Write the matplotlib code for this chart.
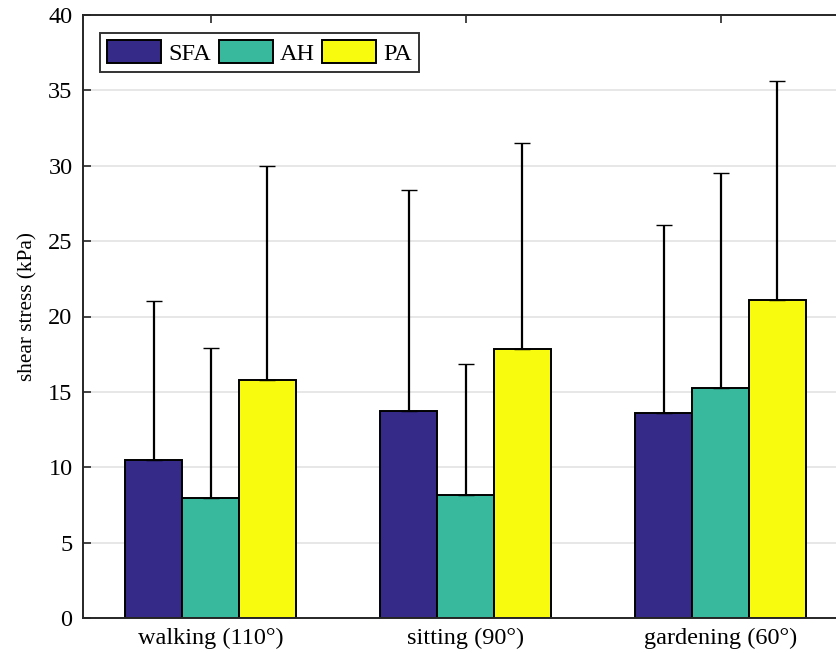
import numpy as np
import matplotlib
matplotlib.use("Agg")
import matplotlib.pyplot as plt

# Data
activities = ["walking (110°)", "sitting (90°)", "gardening (60°)"]
groups = ["SFA", "AH", "PA"]
sfa_mean = [10.5, 13.7, 13.6]
ah_mean = [7.95, 8.15, 15.25]
pa_mean = [15.8, 17.85, 21.1]
sfa_top = [21.03, 28.4, 26.07]
ah_top = [17.9, 16.85, 29.55]
pa_top = [30.0, 31.5, 35.65]

colors = ["#352a87", "#38b99e", "#f9fb0e"]

plt.rcParams['font.family'] = ['Liberation Serif', 'DejaVu Serif']

fig = plt.figure(figsize=(8.36, 6.53), dpi=100)
# axes runs off the right edge, as in the cropped reference
ax = fig.add_axes([83 / 836, 35 / 653, 765 / 836, 603 / 653])

x = np.arange(1, len(activities) + 1)
width = 0.2235
means = [sfa_mean, ah_mean, pa_mean]
tops = [sfa_top, ah_top, pa_top]

for i, (name, m, t) in enumerate(zip(groups, means, tops)):
    pos = x + (i - 1) * width
    ax.bar(pos, m, width, color=colors[i], edgecolor="black", linewidth=1.4,
           label=name, zorder=2)
    err = np.array(t) - np.array(m)
    eb = ax.errorbar(pos, m, yerr=[np.zeros_like(err), err], fmt="none",
                     ecolor="black", elinewidth=1.6, capsize=5.5, capthick=1.0,
                     zorder=3)
    for cap in eb[1]:
        cap.set_color("#a0a0a0")

ax.set_xlim(0.5, 3.5)
ax.set_ylim(0, 40)
ax.set_yticks(np.arange(0, 41, 5))
ax.set_xticks(x)
ax.set_xticklabels(activities)
ax.set_ylabel("shear stress (kPa)", fontsize=15.3)
ax.yaxis.set_label_coords(-0.059, 0.517)

ax.yaxis.grid(True, color="#e3e3e3", linewidth=1.2, zorder=0)
ax.set_axisbelow(True)
ax.tick_params(axis="both", direction="in", length=6, width=1.2,
               labelsize=17.5, top=True, right=True, color="#262626")
ax.tick_params(axis="y", pad=7.5)
ax.tick_params(axis="x", pad=7)
for s in ax.spines.values():
    s.set_linewidth(1.4)
    s.set_color("#262626")

leg = ax.legend(loc="upper left", bbox_to_anchor=(17 / 765, 1 - 18 / 603),
                ncol=3, fontsize=17.5, frameon=True, fancybox=False,
                edgecolor="black", handlelength=2.22, handleheight=1.05,
                handletextpad=0.3, columnspacing=0.3, borderpad=0.3,
                borderaxespad=0)
leg.get_frame().set_linewidth(1.4)

fig.savefig("out.png", dpi=100)
